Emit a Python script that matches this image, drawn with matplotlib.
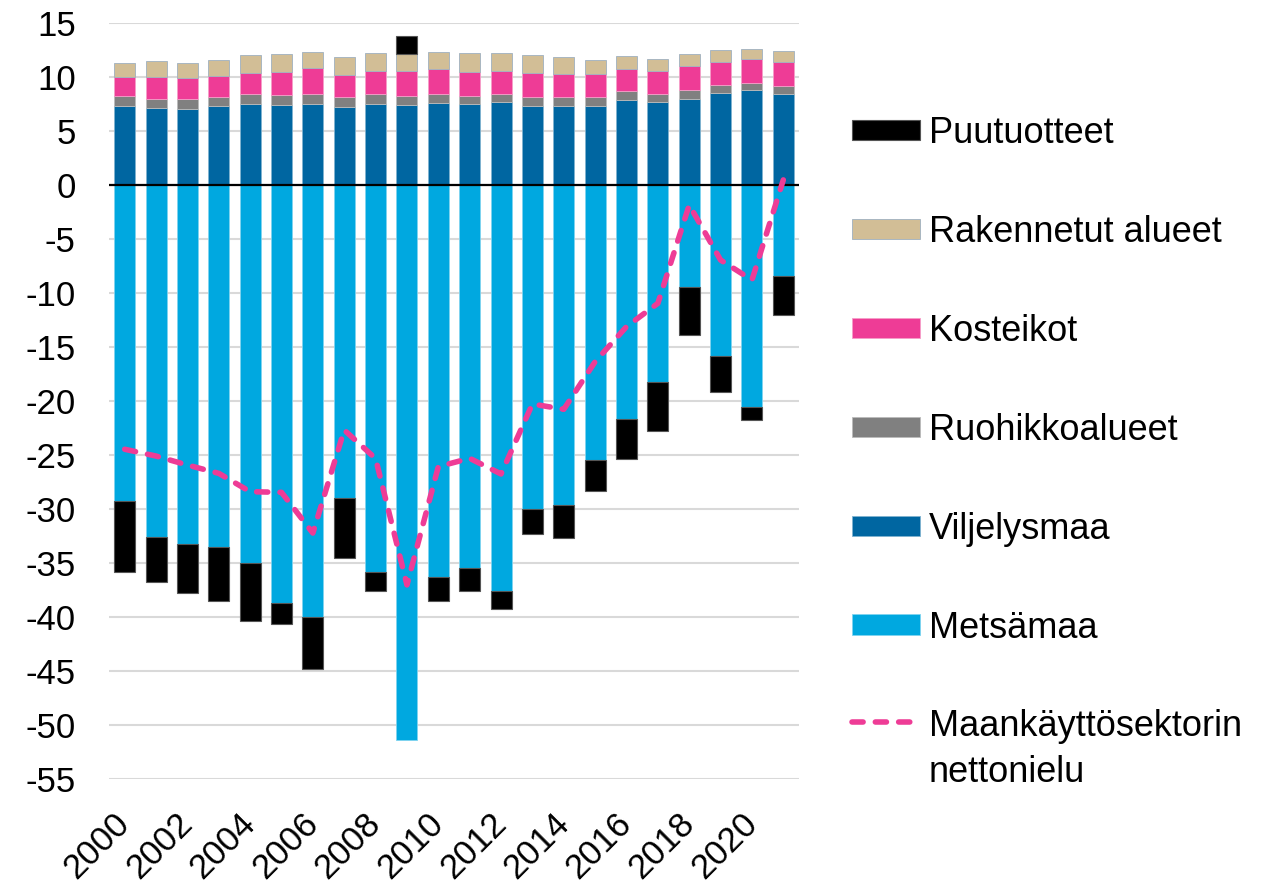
import numpy as np
import matplotlib
matplotlib.use("Agg")
import matplotlib.pyplot as plt
from matplotlib.legend_handler import HandlerLine2D

plt.rcParams['font.family'] = ['Liberation Sans', 'DejaVu Sans']
plt.rcParams['axes.unicode_minus'] = False

years = list(range(2000, 2022))

viljelysmaa = [7.37, 7.19, 7.09, 7.37, 7.56, 7.46, 7.56, 7.22, 7.56, 7.43, 7.62,
               7.53, 7.71, 7.37, 7.37, 7.37, 7.93, 7.74, 8.02, 8.52, 8.80, 8.45]
ruohikkoalueet = [0.93, 0.83, 0.87, 0.81, 0.92, 0.93, 0.92, 0.93, 0.89, 0.87, 0.80,
                  0.77, 0.77, 0.78, 0.78, 0.78, 0.80, 0.74, 0.78, 0.74, 0.70, 0.78]
kosteikot = [1.73, 2.01, 1.98, 1.94, 1.89, 2.10, 2.41, 2.03, 2.16, 2.31, 2.35,
             2.19, 2.10, 2.28, 2.19, 2.19, 2.07, 2.13, 2.28, 2.19, 2.17, 2.22]
rakennetut = [1.32, 1.48, 1.41, 1.51, 1.67, 1.64, 1.48, 1.67, 1.67, 1.55, 1.60,
              1.79, 1.64, 1.61, 1.51, 1.26, 1.14, 1.08, 1.05, 1.05, 0.98, 1.01]
metsamaa = [-29.23, -32.54, -33.24, -33.46, -35.00, -38.64, -40.00, -28.95, -35.83, -51.39, -36.30,
            -35.46, -37.59, -29.97, -29.60, -25.44, -21.61, -18.24, -9.39, -15.81, -20.53, -8.37]
puutuotteet = [-6.60, -4.16, -4.54, -5.06, -5.37, -1.95, -4.79, -5.59, -1.76, 1.69, -2.16,
               -2.13, -1.67, -2.32, -3.03, -2.89, -3.76, -4.48, -4.50, -3.36, -1.23, -3.61]
nettonielu = [-24.44, -25.07, -25.90, -26.67, -28.37, -28.43, -32.20, -22.66, -25.30, -37.00, -26.05,
              -25.28, -26.73, -20.25, -20.74, -16.33, -13.09, -10.93, -1.82, -6.92, -8.77, 0.50]

yticks = list(range(15, -56, -5))
xtick_years = list(range(2000, 2021, 2))
labels = ['Puutuotteet', 'Rakennetut alueet', 'Kosteikot', 'Ruohikkoalueet',
          'Viljelysmaa', 'Metsämaa', 'Maankäyttösektorin\nnettonielu']

c_puu = '#000000'
c_rak = '#D2BE96'
c_kost = '#EE3C96'
c_ruoh = '#808080'
c_vilj = '#0066A1'
c_mets = '#00A8E0'
c_net = '#EE3C96'


class ShiftedLine(HandlerLine2D):
    def __init__(self, dy, **kw):
        super().__init__(**kw)
        self.dy = dy

    def create_artists(self, legend, orig_handle, xdescent, ydescent, width, height,
                       fontsize, trans):
        arts = super().create_artists(legend, orig_handle, xdescent, ydescent, width, height,
                                      fontsize, trans)
        for a in arts:
            a.set_ydata(np.asarray(a.get_ydata()) + self.dy)
        return arts


fig = plt.figure(figsize=(12.71, 8.84), dpi=100)
ax = fig.add_axes([109/1271, 1-779.3/884, 690/1271, (779.3-23.3)/884])

x = np.arange(len(years))
w = 0.67
v = np.array(viljelysmaa)
r = np.array(ruohikkoalueet)
k = np.array(kosteikot)
ra = np.array(rakennetut)
m = np.array(metsamaa)
p = np.array(puutuotteet)

b_vilj = ax.bar(x, v, w, color=c_vilj, edgecolor='#7FB2D0', linewidth=0.6, zorder=2)
b_ruoh = ax.bar(x, r, w, bottom=v, color=c_ruoh, edgecolor='#BBBBBB', linewidth=0.6, zorder=2)
b_kost = ax.bar(x, k, w, bottom=v + r, color=c_kost, edgecolor='#F59DC8', linewidth=0.6, zorder=2)
b_rak = ax.bar(x, ra, w, bottom=v + r + k, color=c_rak, edgecolor='#9FB0C0', linewidth=0.6, zorder=2)
b_mets = ax.bar(x, m, w, color=c_mets, edgecolor='#80D4F0', linewidth=0.6, zorder=2)
top = v + r + k + ra
b_puu = ax.bar(x, p, w, bottom=np.where(p >= 0, top, m), color=c_puu, edgecolor='#555555',
               linewidth=0.8, zorder=2)

ax.axhline(0, color='black', lw=1.6, zorder=3)
ln, = ax.plot(x, nettonielu, color=c_net, lw=4, ls=(0, (2.0, 2.2)),
              dash_capstyle='round', solid_capstyle='round', zorder=4)

ax.set_xlim(-0.5, len(years) - 0.5)
ax.set_ylim(-55, 15)
ax.set_yticks(yticks)
ax.set_yticklabels([str(t) for t in yticks])
ax.yaxis.grid(True, color='#D9D9D9', lw=1.5)
ax.set_axisbelow(True)
for s in ax.spines.values():
    s.set_visible(False)

ax.set_xticks([years.index(yy) for yy in xtick_years])
ax.set_xticklabels([str(yy) for yy in xtick_years], rotation=45, ha='right', va='center',
                   rotation_mode='anchor')
ax.tick_params(axis='x', length=0, pad=28, labelsize=25)
ax.tick_params(axis='y', length=0, pad=24, labelsize=25)

leg = fig.legend([b_puu, b_rak, b_kost, b_ruoh, b_vilj, b_mets, ln], labels,
                 loc='upper left', bbox_to_anchor=(852/1271, 1 - 116/884),
                 frameon=False, fontsize=26, borderpad=0, borderaxespad=0,
                 handlelength=1.88, handleheight=0.5, handletextpad=0.25,
                 labelspacing=1.77, handler_map={ln: ShiftedLine(21)})
leg.get_texts()[-1].set_linespacing(1.38)

fig.savefig('out.png', dpi=100)
